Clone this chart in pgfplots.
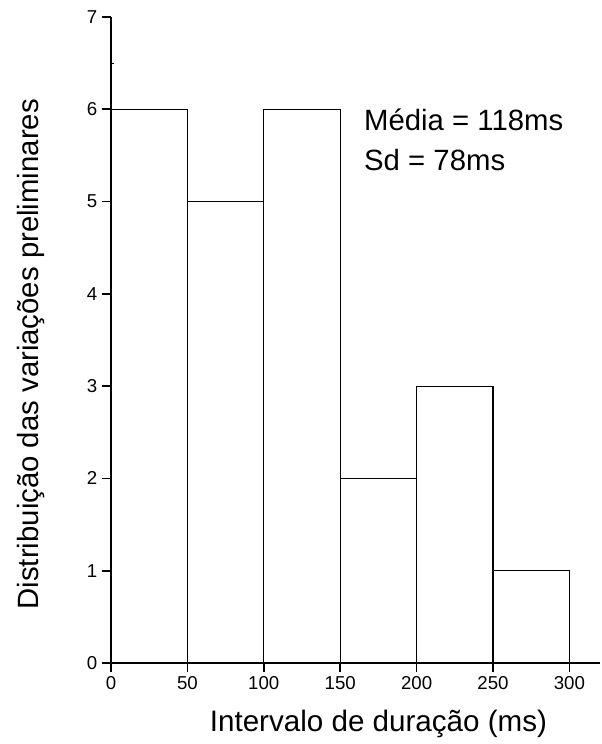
\documentclass[border=0pt]{standalone}
\usepackage{pgfplots}
\pgfplotsset{compat=1.18}
\usepackage{fontspec}
\setmainfont{Liberation Sans}
\begin{document}
\begin{tikzpicture}
\path[use as bounding box] (0pt,0pt) rectangle (451.5pt,558pt);
\begin{axis}[
  at={(83.25pt,60.75pt)}, anchor=south west,
  scale only axis, width=366.75pt, height=484.5pt,
  xmin=0, xmax=320, ymin=0, ymax=7,
  axis lines*=left,
  axis line style={line width=1.4pt},
  xtick={0,50,...,300}, ytick={0,1,...,7},
  minor x tick num=1, minor y tick num=1,
  tick align=outside,
  major tick length=6.75pt, minor tick length=-2.5pt,
  minor tick style={line width=0.8pt},
  major tick style={line width=1.2pt, black},
  tick style={black},
  /pgf/number format/assume math mode=true,
  ticklabel style={font=\fontsize{14}{16}\selectfont},
  xlabel={Intervalo de duração (ms)},
  ylabel={Distribuição das variações preliminares},
  xlabel style={at={(axis description cs:0.547,-0.095)}, anchor=center, font=\fontsize{22.2}{26}\selectfont},
  ylabel style={at={(axis description cs:-0.164,0.478)}, anchor=center, font=\fontsize{22}{26}\selectfont},
  clip=false,
]
\addplot[ybar interval, draw=black, fill=white, line width=0.9pt] coordinates {
  (0,6) (50,5) (100,6) (150,2) (200,3) (250,1) (300,1)
};
\node[anchor=base west, inner sep=0pt, font=\fontsize{22}{26}\selectfont] at (axis cs:165.5,5.775) {Média = 118ms};
\node[anchor=base west, inner sep=0pt, font=\fontsize{22}{26}\selectfont] at (axis cs:165.5,5.342) {Sd = 78ms};
\end{axis}
\end{tikzpicture}
\end{document}
